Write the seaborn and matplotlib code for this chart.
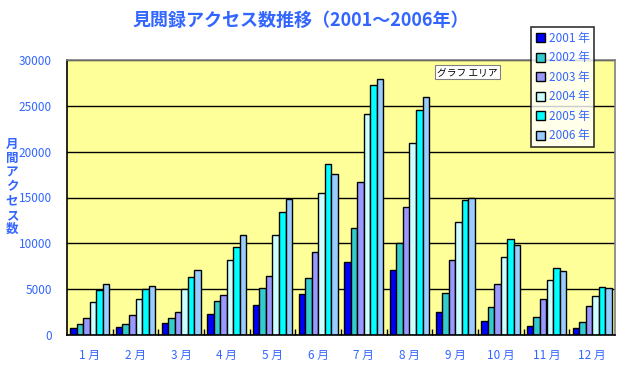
import pandas as pd
import matplotlib.pyplot as plt
import seaborn as sns
from matplotlib.patches import Patch

# ------------------------------------------------------------------
# Daten
# ------------------------------------------------------------------
months = ['1 月', '2 月', '3 月', '4 月', '5 月', '6 月',
          '7 月', '8 月', '9 月', '10 月', '11 月', '12 月']
years = ['2001 年', '2002 年', '2003 年', '2004 年', '2005 年', '2006 年']

v2001 = [760, 870, 1300, 2280, 3300, 4470, 8000, 7090, 2480, 1530, 950, 760]
v2002 = [1200, 1200, 1850, 3700, 5130, 6220, 11670, 10040, 4560, 3020, 1930, 1380]
v2003 = [1850, 2170, 2500, 4350, 6440, 9050, 16700, 14000, 8170, 5560, 3930, 3160]
v2004 = [3590, 3910, 5000, 8150, 10900, 15500, 24150, 20950, 12290, 8470, 6000, 4220]
v2005 = [4890, 5000, 6300, 9570, 13400, 18650, 27300, 24550, 14690, 10440, 7270, 5200]
v2006 = [5540, 5330, 7070, 10900, 14840, 17560, 27930, 25960, 14950, 9820, 6950, 5090]

series = [v2001, v2002, v2003, v2004, v2005, v2006]
colors = ['#0000ff', '#33cccc', '#9999ff', '#ccffff', '#00ffff', '#99ccff']
blue_txt = '#3366ff'

rows = []
for y, vals in zip(years, series):
    for m, v in zip(months, vals):
        rows.append({'Monat': m, 'Jahr': y, 'Zugriffe': v})
df = pd.DataFrame(rows)

# ------------------------------------------------------------------
# Plot
# ------------------------------------------------------------------
sns.set_theme(style="white")
plt.rcParams['font.family'] = ['Noto Sans CJK JP', 'DejaVu Sans']

fig = plt.figure(figsize=(6.26, 3.76), dpi=100)
ax = fig.add_axes([67 / 626, 41 / 376, 548 / 626, 275 / 376])
ax.set_facecolor('#ffff99')

sns.barplot(data=df, x='Monat', y='Zugriffe', hue='Jahr', order=months,
            hue_order=years, palette=colors, edgecolor='black', linewidth=1,
            width=0.86, saturation=1, dodge=True, ax=ax, legend=False)

ax.set_ylim(0, 30000)
ax.set_xlim(-0.5, 11.5)
ax.set_yticks(range(0, 30001, 5000))
ax.set_yticklabels([str(v) for v in range(0, 30001, 5000)], color=blue_txt, fontsize=8.5)
ax.yaxis.grid(True, color='black', lw=1)
ax.set_axisbelow(True)

# Kategorie-Ticks zwischen den Gruppen
ax.set_xticks([i + 0.5 for i in range(11)], minor=True)
ax.tick_params(axis='x', which='minor', direction='in', length=4, width=1, color='black', bottom=True)
ax.tick_params(axis='x', which='major', length=0, pad=10)
ax.tick_params(axis='y', length=0, pad=11)
ax.set_xticks(range(12))
ax.set_xticklabels(months, color=blue_txt, fontsize=8.5)
ax.set_xlabel('')
ax.set_ylabel('')

for side in ['left', 'bottom']:
    ax.spines[side].set_color('black')
    ax.spines[side].set_linewidth(1.2)
for side in ['top', 'right']:
    ax.spines[side].set_color('#808080')
    ax.spines[side].set_linewidth(1.2)

# Titel
fig.text(0.48, 0.945, '見閲録アクセス数推移（2001～2006年）', ha='center', va='center',
         fontsize=13, fontweight='bold', color=blue_txt)

# y-Beschriftung (vertikal gestapelt)
fig.text(12 / 626, 1 - 187 / 376, '月\n間\nア\nク\nセ\nス\n数', ha='center', va='center',
         fontsize=9, fontweight='bold', color=blue_txt, linespacing=1.12)

# "グラフ エリア" Hinweis
fig.text(437 / 626, 1 - 72 / 376, 'グラフ エリア', ha='left', va='center', fontsize=7,
         color='black', bbox=dict(facecolor='white', edgecolor='#808080', pad=1.5, lw=0.8))

# Legende
handles = [Patch(facecolor=c, edgecolor='black', lw=1) for c in colors]
leg = fig.legend(handles, years, loc='upper left', bbox_to_anchor=(531 / 626, 1 - 27 / 376),
                 frameon=True, fontsize=8.5, handlelength=0.8, handleheight=0.8,
                 handletextpad=0.3, labelspacing=0.55, borderpad=0.4, fancybox=False,
                 borderaxespad=0)
leg.get_frame().set_edgecolor('black')
leg.get_frame().set_linewidth(1.2)
for t in leg.get_texts():
    t.set_color(blue_txt)

plt.savefig('out.png', dpi=100)
plt.close()
